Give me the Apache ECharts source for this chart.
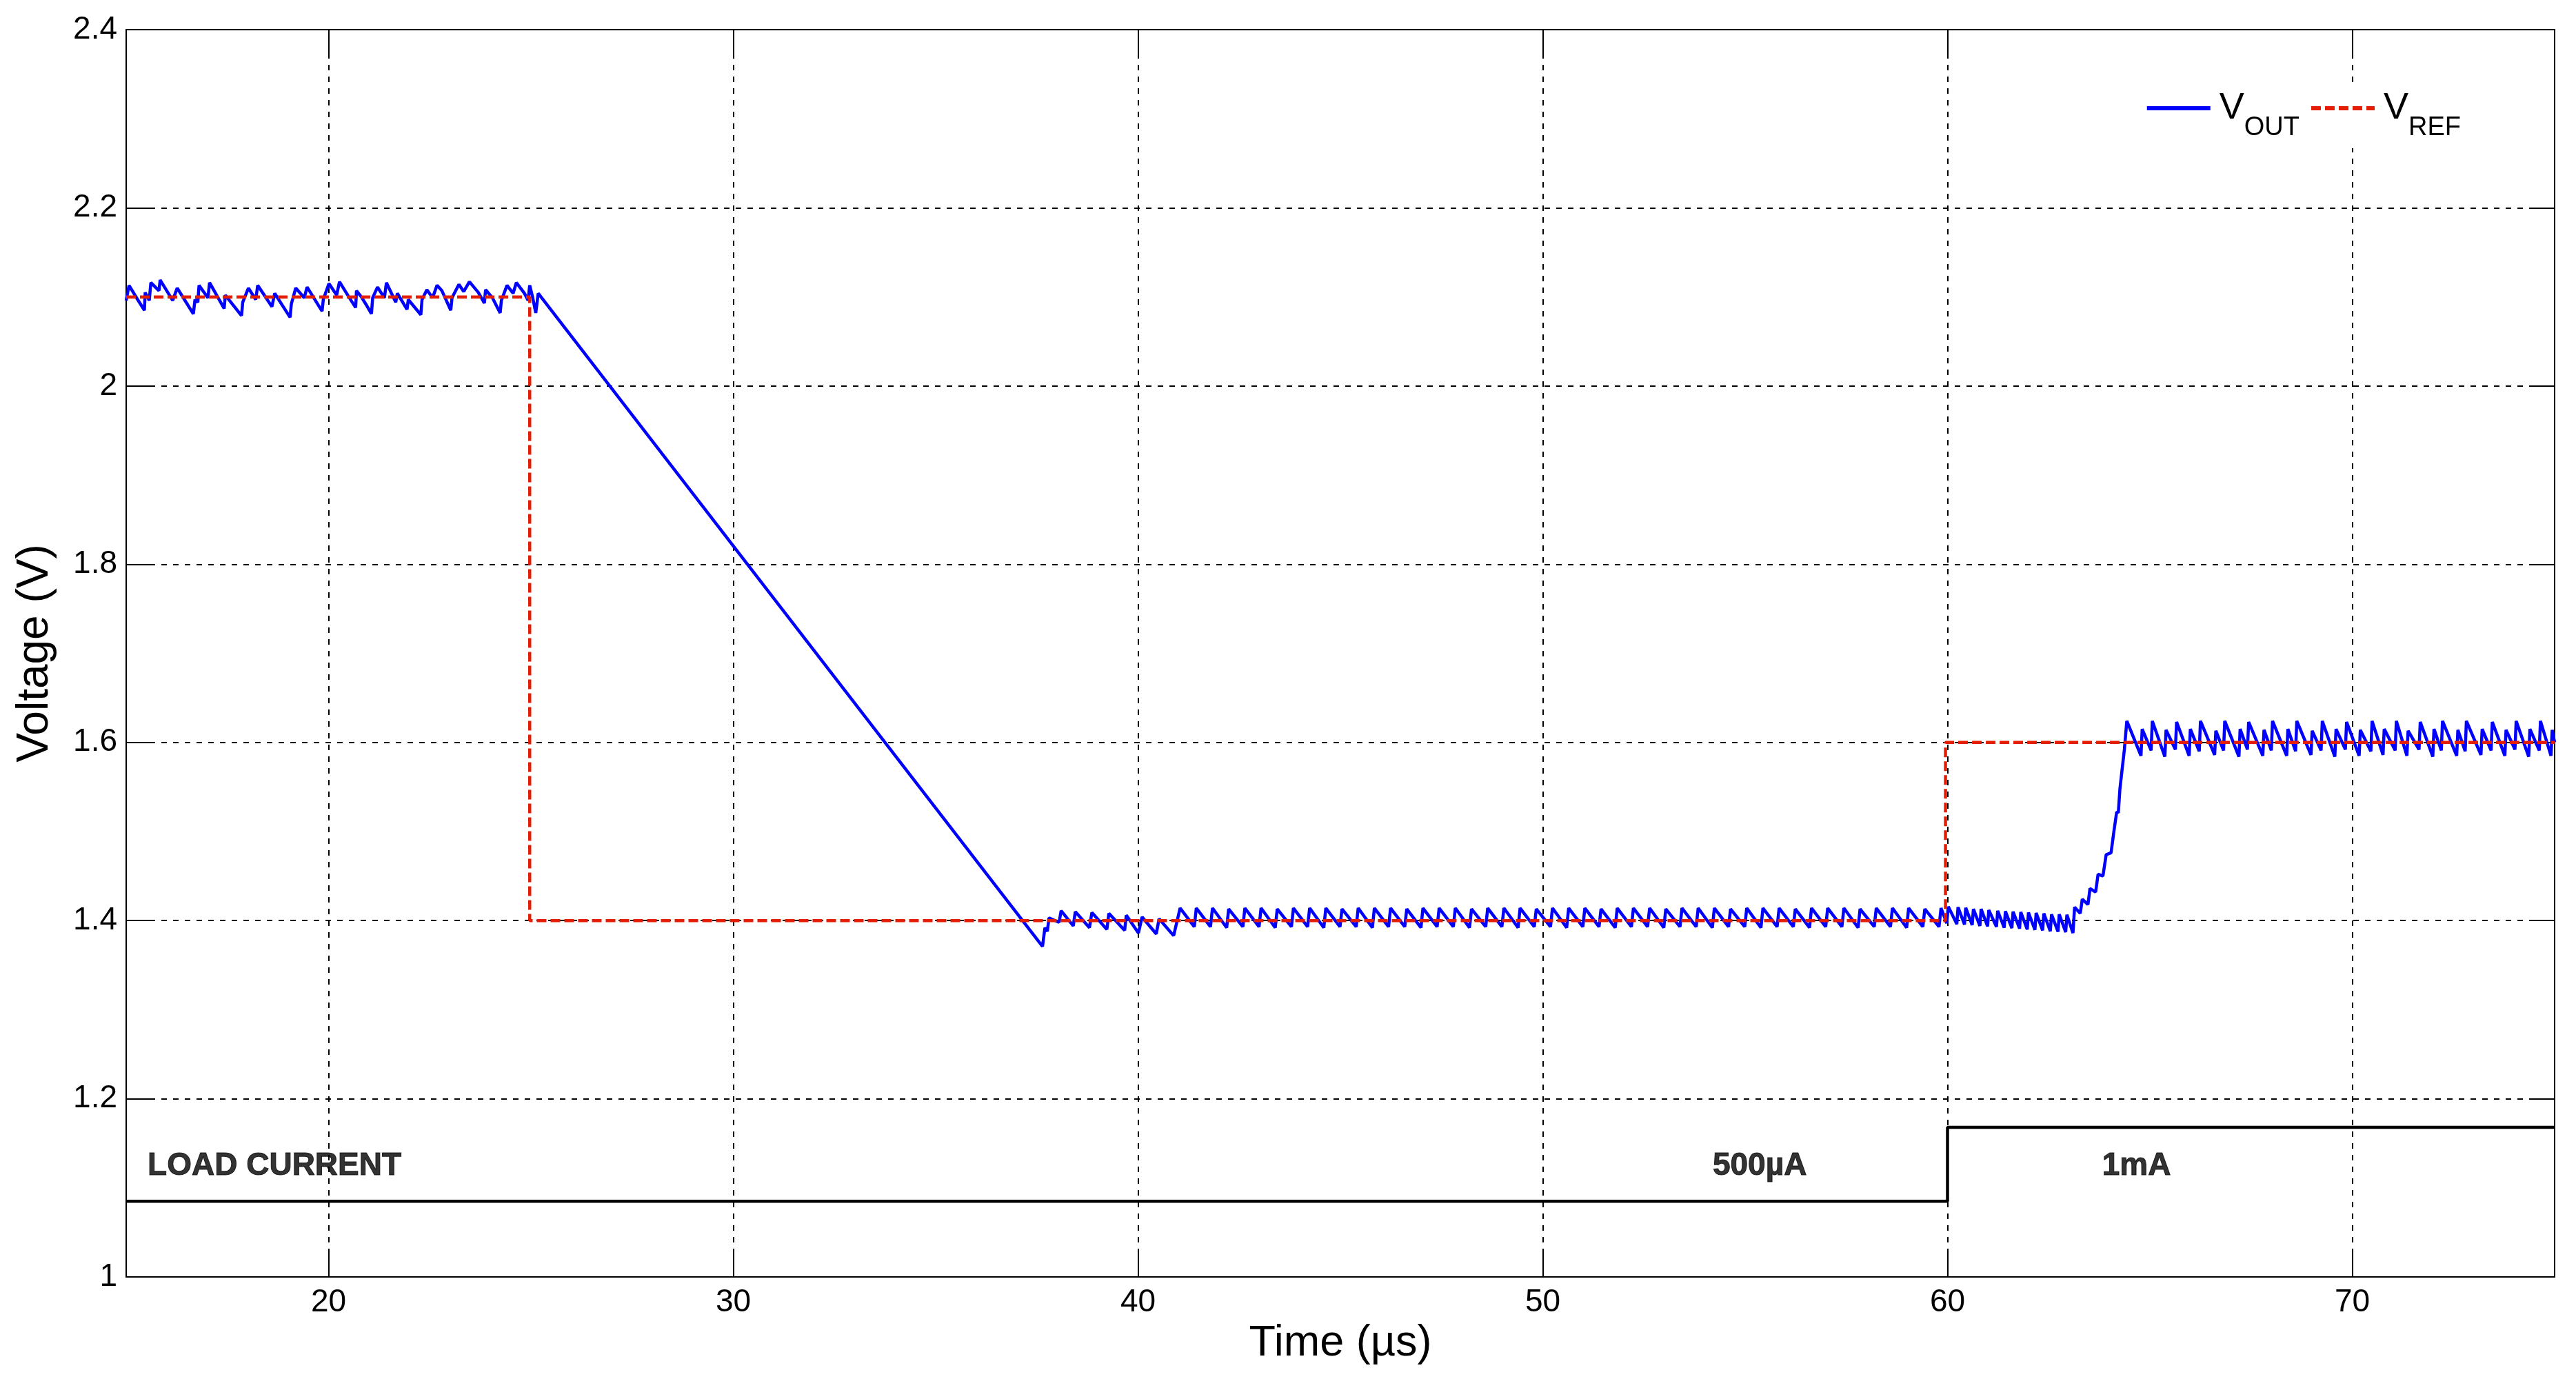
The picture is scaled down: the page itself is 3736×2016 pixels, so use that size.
<!DOCTYPE html>
<html>
<head>
	<meta charset="utf-8">
	<title>VOUT / VREF step response</title>
	<script src="https://cdn.jsdelivr.net/npm/echarts@6/dist/echarts.min.js"></script>
	<style>
		html, body { margin: 0; padding: 0; background: #fff; }
		#main { width: 3736px; height: 2016px; }
	</style>
</head>
<body>
<div id="main"></div>
<script type="text/javascript">
// x axis tick positions (µs)
var xTicks = [20, 30, 40, 50, 60, 70];

// reference voltage (step 2.1 -> 1.4 -> 1.6)
var vrefPts = [[15, 2.1], [24.97, 2.1], [24.97, 1.4], [59.95, 1.4], [59.95, 1.6], [75, 1.6]];

// load current trace (drawn on the voltage scale)
var loadPts = [[15, 1.085], [60, 1.085], [60, 1.168], [75, 1.168]];

// text notes on the plot
var noteText = ['LOAD CURRENT', '500µA', '1mA'];
var noteX = [15.53, 55.36, 64.67];
var noteY = [1.124, 1.124, 1.124];

// VOUT
var voutHigh = [
	[15.00, 2.096], [15.07, 2.113], [15.27, 2.098], [15.45, 2.085], [15.47, 2.105], [15.57, 2.096], [15.61, 2.116],
	[15.81, 2.107], [15.84, 2.119], [16.15, 2.096], [16.26, 2.110], [16.66, 2.081], [16.70, 2.097], [16.77, 2.094],
	[16.80, 2.113], [17.02, 2.099], [17.06, 2.116], [17.42, 2.087], [17.45, 2.102], [17.85, 2.079], [17.88, 2.094],
	[18.02, 2.110], [18.20, 2.097], [18.25, 2.113], [18.60, 2.089], [18.67, 2.104], [19.05, 2.077], [19.08, 2.092],
	[19.19, 2.110], [19.40, 2.099], [19.47, 2.111], [19.84, 2.084], [19.87, 2.097], [20.01, 2.115], [20.20, 2.102],
	[20.27, 2.117], [20.50, 2.100], [20.67, 2.088], [20.69, 2.107], [20.81, 2.100], [20.92, 2.092], [21.06, 2.081],
	[21.09, 2.099], [21.21, 2.111], [21.38, 2.099], [21.43, 2.116], [21.66, 2.094], [21.70, 2.104], [21.94, 2.086],
	[21.97, 2.097], [22.28, 2.080], [22.31, 2.097], [22.43, 2.108], [22.57, 2.099], [22.68, 2.113], [22.80, 2.107],
	[23.02, 2.085], [23.05, 2.099], [23.22, 2.114], [23.34, 2.106], [23.48, 2.117], [23.70, 2.105], [23.85, 2.093],
	[23.88, 2.108], [24.05, 2.099], [24.24, 2.082], [24.27, 2.096], [24.41, 2.113], [24.56, 2.104], [24.64, 2.116],
	[24.84, 2.104], [24.93, 2.096], [24.97, 2.113], [25.04, 2.100], [25.12, 2.082], [25.18, 2.104]
];
var voutRamp = [[37.64, 1.371]];
var voutSettle = [
	[37.70, 1.392], [37.76, 1.388], [37.80, 1.403], [38.05, 1.398], [38.10, 1.411], [38.40, 1.394], [38.45, 1.410],
	[38.80, 1.392], [38.86, 1.409], [39.23, 1.390], [39.28, 1.408], [39.67, 1.389], [39.71, 1.406], [40.01, 1.386],
	[40.10, 1.404], [40.45, 1.385], [40.52, 1.402], [40.88, 1.383]
];
var voutLow = [
	[41.04, 1.414], [41.39, 1.393], [41.44, 1.414], [41.79, 1.393], [41.84, 1.414], [42.19, 1.392], [42.24, 1.413],
	[42.59, 1.393], [42.64, 1.414], [42.99, 1.393], [43.04, 1.414], [43.39, 1.392], [43.44, 1.413], [43.79, 1.393],
	[43.84, 1.414], [44.19, 1.393], [44.24, 1.414], [44.59, 1.392], [44.64, 1.414], [44.99, 1.393], [45.04, 1.413],
	[45.39, 1.393], [45.44, 1.414], [45.79, 1.392], [45.84, 1.414], [46.19, 1.393], [46.24, 1.414], [46.59, 1.393],
	[46.64, 1.413], [46.99, 1.392], [47.04, 1.414], [47.39, 1.393], [47.44, 1.414], [47.79, 1.393], [47.84, 1.414],
	[48.19, 1.392], [48.24, 1.413], [48.59, 1.393], [48.64, 1.414], [48.99, 1.393], [49.04, 1.414], [49.39, 1.392],
	[49.44, 1.414], [49.79, 1.393], [49.84, 1.413], [50.19, 1.393], [50.24, 1.414], [50.59, 1.392], [50.64, 1.414],
	[50.99, 1.393], [51.04, 1.414], [51.39, 1.393], [51.44, 1.413], [51.79, 1.392], [51.84, 1.414], [52.19, 1.393],
	[52.24, 1.414], [52.59, 1.393], [52.64, 1.414], [52.99, 1.392], [53.04, 1.413], [53.39, 1.393], [53.44, 1.414],
	[53.79, 1.393], [53.84, 1.414], [54.19, 1.392], [54.24, 1.414], [54.59, 1.393], [54.64, 1.413], [54.99, 1.393],
	[55.04, 1.414], [55.39, 1.392], [55.44, 1.414], [55.79, 1.393], [55.84, 1.414], [56.19, 1.393], [56.24, 1.413],
	[56.59, 1.392], [56.64, 1.414], [56.99, 1.393], [57.04, 1.414], [57.39, 1.393], [57.44, 1.414], [57.79, 1.392],
	[57.84, 1.413], [58.19, 1.393], [58.24, 1.414], [58.59, 1.393], [58.64, 1.414], [58.99, 1.392], [59.04, 1.414],
	[59.39, 1.393], [59.44, 1.413], [59.79, 1.393], [59.84, 1.414]
];
var voutStep = [
	[59.98, 1.397], [60.02, 1.4157], [60.23, 1.396], [60.26, 1.415], [60.42, 1.3955], [60.45, 1.4143], [60.61, 1.395],
	[60.64, 1.413], [60.80, 1.394], [60.83, 1.413], [60.99, 1.3935], [61.02, 1.4118], [61.21, 1.393], [61.24, 1.411],
	[61.40, 1.392], [61.43, 1.4105], [61.59, 1.3915], [61.62, 1.410], [61.78, 1.391], [61.81, 1.4095], [61.97, 1.390],
	[62.00, 1.409], [62.16, 1.3895], [62.19, 1.4085], [62.35, 1.389], [62.38, 1.408], [62.54, 1.388], [62.57, 1.407],
	[62.73, 1.3875], [62.76, 1.407], [62.92, 1.387], [62.95, 1.4065], [63.10, 1.386], [63.14, 1.415], [63.28, 1.408],
	[63.33, 1.424], [63.47, 1.418], [63.52, 1.436], [63.66, 1.432], [63.72, 1.452], [63.84, 1.450], [63.92, 1.474],
	[64.04, 1.476], [64.12, 1.503], [64.18, 1.522], [64.22, 1.521], [64.26, 1.548], [64.31, 1.568], [64.34, 1.568],
	[64.37, 1.592]
];
var voutFinal = [
	[64.43, 1.624], [64.78, 1.585], [64.81, 1.615], [65.03, 1.591], [65.06, 1.624], [65.37, 1.584], [65.40, 1.614],
	[65.63, 1.592], [65.66, 1.623], [65.97, 1.585], [66.00, 1.615], [66.22, 1.590], [66.25, 1.624], [66.60, 1.586],
	[66.63, 1.613], [66.82, 1.591], [66.85, 1.624], [67.20, 1.584], [67.23, 1.615], [67.41, 1.592], [67.44, 1.623],
	[67.79, 1.585], [67.82, 1.614], [68.00, 1.591], [68.03, 1.624], [68.38, 1.585], [68.41, 1.615], [68.60, 1.590],
	[68.63, 1.624], [68.98, 1.586], [69.01, 1.613], [69.23, 1.591], [69.26, 1.624], [69.57, 1.584], [69.60, 1.615],
	[69.83, 1.592], [69.86, 1.623], [70.17, 1.585], [70.20, 1.614], [70.46, 1.590], [70.49, 1.624], [70.76, 1.586],
	[70.79, 1.615], [71.06, 1.591], [71.09, 1.624], [71.35, 1.585], [71.38, 1.613], [71.65, 1.592], [71.68, 1.623],
	[71.99, 1.584], [72.02, 1.615], [72.20, 1.591], [72.23, 1.624], [72.58, 1.585], [72.61, 1.614], [72.79, 1.590],
	[72.82, 1.624], [73.18, 1.586], [73.21, 1.615], [73.43, 1.591], [73.46, 1.623], [73.77, 1.585], [73.80, 1.614],
	[74.02, 1.592], [74.05, 1.624], [74.36, 1.584], [74.39, 1.615], [74.62, 1.591], [74.65, 1.624], [74.91, 1.585],
	[74.94, 1.614], [75.00, 1.600]
];
var vout = voutHigh.concat(voutRamp, voutSettle, voutLow, voutStep, voutFinal);

var font = '"Liberation Sans", Arial, Helvetica, sans-serif';
var black = '#000';

var myChart = echarts.init(document.getElementById('main'));

// box axes: ticks inside on all four sides, like the original
function boxX(pos, withLabels) {
	return {
		type: 'value', min: 15, max: 75, position: pos,
		name: withLabels ? 'Time (µs)' : '',
		nameLocation: 'middle', nameGap: 62,
		nameTextStyle: { fontSize: 63, fontFamily: font, color: black },
		axisLine: { show: true, onZero: false, lineStyle: { color: black, width: 2 } },
		axisTick: { show: true, inside: true, length: 35, customValues: xTicks, lineStyle: { color: black, width: 2 } },
		axisLabel: { show: withLabels, customValues: xTicks, fontSize: 46, fontFamily: font, color: black, margin: 14 },
		splitLine: { show: withLabels, lineStyle: { color: black, width: 2, type: [8, 9] } }
	};
}
function boxY(pos, withLabels) {
	return {
		type: 'value', min: 1, max: 2.4, interval: 0.2, position: pos,
		name: withLabels ? 'Voltage (V)' : '',
		nameLocation: 'middle', nameGap: 100,
		nameTextStyle: { fontSize: 64, fontFamily: font, color: black },
		axisLine: { show: true, onZero: false, lineStyle: { color: black, width: 2 } },
		axisTick: { show: true, inside: true, length: 35, lineStyle: { color: black, width: 2 } },
		axisLabel: { show: withLabels, fontSize: 46, fontFamily: font, color: black, margin: 13 },
		splitLine: { show: withLabels, lineStyle: { color: black, width: 2, type: [8, 9] } }
	};
}

var option = {
	animation: false,
	backgroundColor: '#fff',
	grid: { left: 183, right: 31, top: 43, bottom: 164 },
	legend: {
		data: ['VOUT', 'VREF'],
		right: 159, top: 122,
		itemWidth: 92, itemHeight: 20, itemGap: 14,
		backgroundColor: '#fff',
		padding: [8, 8, 10, 8],
		itemStyle: { opacity: 0 },
		lineStyle: { width: 6 },
		formatter: function (name) {
			return name === 'VOUT' ? '{v|V}{s|OUT}' : '{v|V}{s|REF}';
		},
		textStyle: {
			color: black, fontFamily: font,
			rich: {
				v: { fontSize: 54, lineHeight: 96, fontFamily: font, color: black, padding: [0, 0, 0, 8] },
				s: { fontSize: 38, lineHeight: 38, verticalAlign: 'bottom', fontFamily: font, color: black }
			}
		}
	},
	xAxis: [boxX('bottom', true), boxX('top', false)],
	yAxis: [boxY('left', true), boxY('right', false)],
	series: [
		{
			name: 'Load', type: 'line', data: loadPts, symbol: 'none', silent: true,
			lineStyle: { color: black, width: 4.5 }, z: 3
		},
		{
			name: 'VOUT', type: 'line', data: vout, symbol: 'none', sampling: false, silent: true,
			lineStyle: { color: '#0000ff', width: 4.5 }, itemStyle: { color: '#0000ff' }, z: 4
		},
		{
			name: 'VREF', type: 'line', data: vrefPts, symbol: 'none', silent: true,
			lineStyle: { color: '#e41e05', width: 4.5, type: [14, 6] }, itemStyle: { color: '#e41e05' }, z: 5
		},
		{
			name: 'notes', type: 'scatter', symbolSize: 1, silent: true,
			itemStyle: { color: 'rgba(0,0,0,0)' },
			data: noteX.map(function (x, i) {
				return { value: [x, noteY[i]], label: { align: i === 0 ? 'left' : 'center' } };
			}),
			label: {
				show: true, position: 'inside',
				formatter: function (p) { return noteText[p.dataIndex]; },
				fontSize: 46, fontWeight: 'bold', fontFamily: font, color: '#000',
				textBorderColor: '#000', textBorderWidth: 1
			},
			z: 6
		}
	]
};

myChart.setOption(option);
</script>
</body>
</html>
